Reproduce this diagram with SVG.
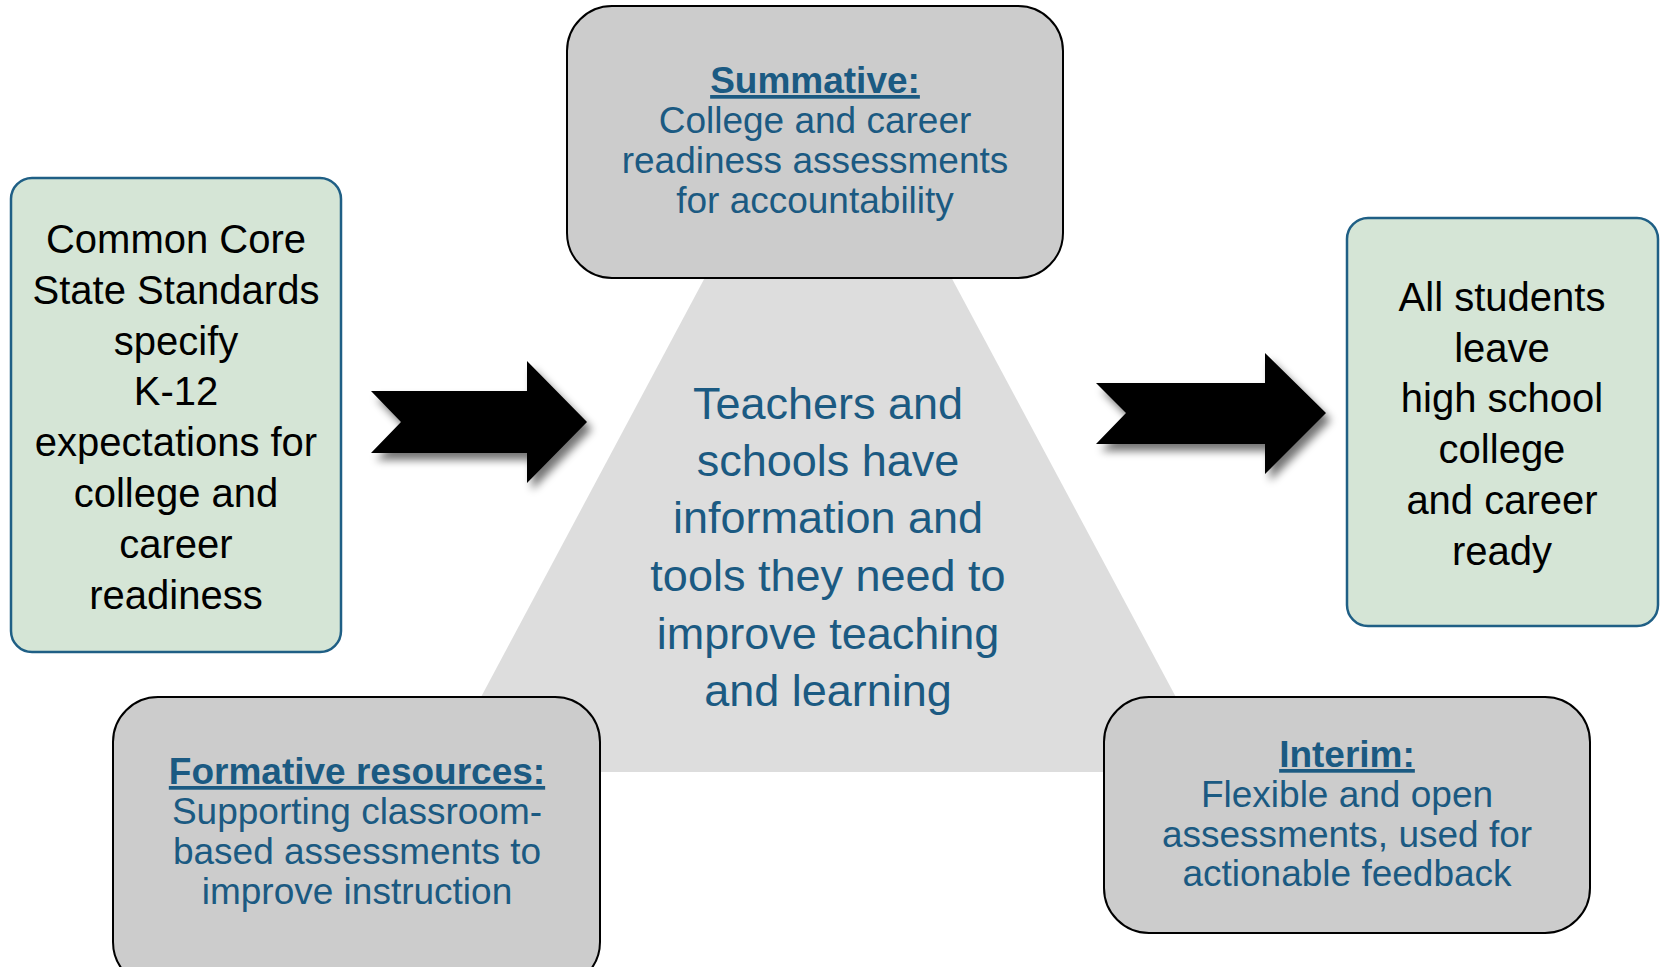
<svg xmlns="http://www.w3.org/2000/svg" width="1662" height="967" viewBox="0 0 1662 967">
<defs>
<filter id="sh" x="-20%" y="-20%" width="150%" height="160%">
<feGaussianBlur in="SourceAlpha" stdDeviation="4"/>
<feOffset dx="5" dy="7" result="b"/>
<feComponentTransfer><feFuncA type="linear" slope="0.55"/></feComponentTransfer>
<feMerge><feMergeNode/><feMergeNode in="SourceGraphic"/></feMerge>
</filter>
</defs>
<style>
.green{fill:#d5e5d6;stroke:#1f5f85;stroke-width:2.5}
.gray{fill:#cccccc;stroke:#000;stroke-width:2}
.blk{font-family:"Liberation Sans",Arial,sans-serif;font-size:40px;fill:#000;text-anchor:middle}
.mid{font-family:"Liberation Sans",Arial,sans-serif;font-size:45px;fill:#1b5a82;text-anchor:middle}
.bt{font-family:"Liberation Sans",Arial,sans-serif;font-size:37px;fill:#1b5a82;text-anchor:middle}
.hd{font-weight:bold;text-decoration:underline}
.arrow{fill:#000;filter:url(#sh)}
</style>
<rect width="1662" height="967" fill="#fff"/>
<g id="center">
<polygon points="828,47 1216,772 441,772" fill="#dddddd"/>
<text class="mid" x="828" y="419">Teachers and</text>
<text class="mid" x="828" y="476">schools have</text>
<text class="mid" x="828" y="533">information and</text>
<text class="mid" x="828" y="591">tools they need to</text>
<text class="mid" x="828" y="649">improve teaching</text>
<text class="mid" x="828" y="706">and learning</text>
</g>
<g id="connectors">
<polygon class="arrow" points="371,391 527,391 527,361 587,422 527,483 527,453 371,453 401,422"/>
<polygon class="arrow" points="1096,383 1265,383 1265,353 1326,413 1265,474 1265,444 1096,444 1126,413"/>
</g>
<g id="ccss">
<rect class="green" x="11" y="178" width="330" height="474" rx="21"/>
<text class="blk" x="176" y="253">Common Core</text>
<text class="blk" x="176" y="304">State Standards</text>
<text class="blk" x="176" y="355">specify</text>
<text class="blk" x="176" y="405">K-12</text>
<text class="blk" x="176" y="456">expectations for</text>
<text class="blk" x="176" y="507">college and</text>
<text class="blk" x="176" y="558">career</text>
<text class="blk" x="176" y="609">readiness</text>
</g>
<g id="ready">
<rect class="green" x="1347" y="218" width="311" height="408" rx="21"/>
<text class="blk" x="1502" y="311">All students</text>
<text class="blk" x="1502" y="362">leave</text>
<text class="blk" x="1502" y="412">high school</text>
<text class="blk" x="1502" y="463">college</text>
<text class="blk" x="1502" y="514">and career</text>
<text class="blk" x="1502" y="565">ready</text>
</g>
<g id="summative">
<rect class="gray" x="567" y="6" width="496" height="272" rx="45"/>
<text class="bt hd" x="815" y="93">Summative:</text>
<text class="bt" x="815" y="133">College and career</text>
<text class="bt" x="815" y="173">readiness assessments</text>
<text class="bt" x="815" y="213">for accountability</text>
</g>
<g id="formative">
<rect class="gray" x="113" y="697" width="487" height="290" rx="45"/>
<text class="bt hd" x="357" y="784">Formative resources:</text>
<text class="bt" x="357" y="824">Supporting classroom-</text>
<text class="bt" x="357" y="864">based assessments to</text>
<text class="bt" x="357" y="904">improve instruction</text>
</g>
<g id="interim">
<rect class="gray" x="1104" y="697" width="486" height="236" rx="45"/>
<text class="bt hd" x="1347" y="767">Interim:</text>
<text class="bt" x="1347" y="807">Flexible and open</text>
<text class="bt" x="1347" y="847">assessments, used for</text>
<text class="bt" x="1347" y="886">actionable feedback</text>
</g>
</svg>
